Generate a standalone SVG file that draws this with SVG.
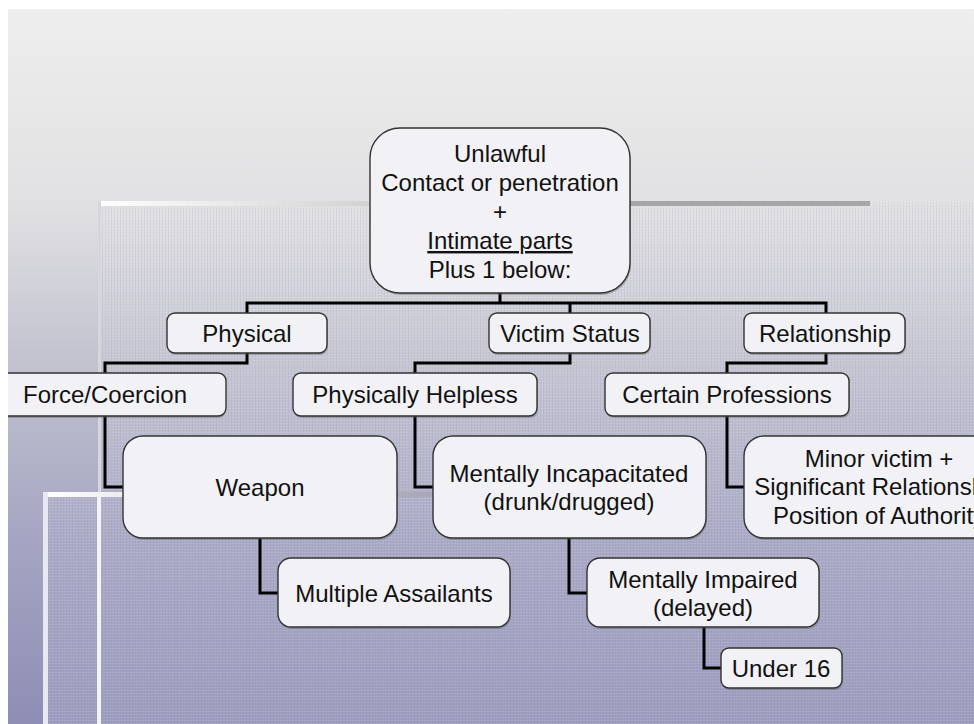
<svg xmlns="http://www.w3.org/2000/svg" width="974" height="724" viewBox="0 0 974 724">
<defs>
<style>
.box{fill:#f1f1f6;stroke:#333;stroke-width:1.4}
.sh{fill:#555;opacity:0.35}
.t{font-family:"Liberation Sans",Arial,sans-serif;font-size:24px;fill:#111;text-anchor:middle}
.c{fill:none;stroke:#000;stroke-width:3;stroke-linejoin:miter}
</style>
<linearGradient id="bg" gradientUnits="userSpaceOnUse" x1="0" y1="9" x2="0" y2="724">
<stop offset="0" stop-color="#eeeeee"/>
<stop offset="0.27" stop-color="#e1e1e3"/>
<stop offset="0.5" stop-color="#c1c1cf"/>
<stop offset="0.75" stop-color="#a4a4c2"/>
<stop offset="1" stop-color="#8e8eb5"/>
</linearGradient>
<linearGradient id="bg2" gradientUnits="userSpaceOnUse" x1="0" y1="9" x2="0" y2="724">
<stop offset="0" stop-color="#f0f0f0"/>
<stop offset="0.27" stop-color="#e2e2e4"/>
<stop offset="0.5" stop-color="#c6c6d3"/>
<stop offset="0.75" stop-color="#aaaac6"/>
<stop offset="1" stop-color="#9c9cbf"/>
</linearGradient>
<linearGradient id="bar1" gradientUnits="userSpaceOnUse" x1="98" y1="0" x2="640" y2="0">
<stop offset="0" stop-color="#ffffff"/>
<stop offset="1" stop-color="#a6a6a8"/>
</linearGradient>
<linearGradient id="bar2" gradientUnits="userSpaceOnUse" x1="43" y1="0" x2="420" y2="0">
<stop offset="0" stop-color="#ffffff"/>
<stop offset="1" stop-color="#a8a8b6"/>
</linearGradient>
<pattern id="grid" width="3" height="3" patternUnits="userSpaceOnUse">
<rect x="0" y="0" width="3" height="1" fill="#ffffff" opacity="0.10"/>
<rect x="0" y="0" width="1" height="3" fill="#7070a0" opacity="0.10"/>
</pattern>
<clipPath id="slide"><rect x="8" y="9" width="966" height="715"/></clipPath>
</defs>
<rect x="0" y="0" width="974" height="724" fill="#ffffff"/>
<g clip-path="url(#slide)">
<g id="background">
<rect x="8" y="9" width="966" height="715" fill="url(#bg)"/>
<rect x="98" y="201" width="876" height="523" fill="url(#bg2)"/>
<rect x="98" y="201" width="876" height="523" fill="url(#grid)"/>
<rect x="98" y="201" width="772" height="5" fill="url(#bar1)"/>
<rect x="98" y="201" width="3" height="296" fill="#d6d6dc"/>
<rect x="43" y="492" width="55" height="232" fill="url(#bg2)"/>
<rect x="43" y="492" width="55" height="232" fill="url(#grid)"/>
<rect x="43" y="492" width="517" height="5" fill="url(#bar2)"/>
<rect x="43" y="492" width="5" height="232" fill="#e8e8f0"/>
<rect x="97" y="497" width="4" height="227" fill="#f4f4f8"/>
</g>
<g id="connectors">
<path class="c" d="M500 293V303M247 313V303H826V313M570 303V313"/>
<path class="c" d="M247 353V363H105V373"/>
<path class="c" d="M570 353V363H415V373"/>
<path class="c" d="M826 353V363H727V373"/>
<path class="c" d="M105 416V487H123"/>
<path class="c" d="M415 416V487H433"/>
<path class="c" d="M727 416V487H744"/>
<path class="c" d="M260 538V593H278"/>
<path class="c" d="M569 538V593H587"/>
<path class="c" d="M704 627V668H721"/>
</g>
<g id="root">
<rect class="sh" x="371" y="130" width="260" height="165" rx="30"/>
<rect class="box" x="370" y="128" width="260" height="165" rx="30"/>
<text class="t" x="500" y="162">Unlawful</text>
<text class="t" x="500" y="191">Contact or penetration</text>
<text class="t" x="500" y="220">+</text>
<text class="t" x="500" y="249" text-decoration="underline">Intimate parts</text>
<text class="t" x="500" y="278">Plus 1 below:</text>
</g>
<g id="physical">
<rect class="sh" x="168" y="315" width="160" height="40" rx="8"/>
<rect class="box" x="167" y="313" width="160" height="40" rx="8"/>
<text class="t" x="247" y="342">Physical</text>
</g>
<g id="victim-status">
<rect class="sh" x="490" y="315" width="161" height="40" rx="8"/>
<rect class="box" x="489" y="313" width="161" height="40" rx="8"/>
<text class="t" x="570" y="342">Victim Status</text>
</g>
<g id="relationship">
<rect class="sh" x="745" y="315" width="161" height="40" rx="8"/>
<rect class="box" x="744" y="313" width="161" height="40" rx="8"/>
<text class="t" x="825" y="342">Relationship</text>
</g>
<g id="force-coercion">
<rect class="sh" x="-15" y="375" width="241" height="43" rx="8"/>
<rect class="box" x="-16" y="373" width="242" height="43" rx="8"/>
<text class="t" x="105" y="403">Force/Coercion</text>
</g>
<g id="physically-helpless">
<rect class="sh" x="294" y="375" width="244" height="43" rx="8"/>
<rect class="box" x="293" y="373" width="244" height="43" rx="8"/>
<text class="t" x="415" y="403">Physically Helpless</text>
</g>
<g id="certain-professions">
<rect class="sh" x="606" y="375" width="244" height="43" rx="8"/>
<rect class="box" x="605" y="373" width="244" height="43" rx="8"/>
<text class="t" x="727" y="403">Certain Professions</text>
</g>
<g id="weapon">
<rect class="sh" x="124" y="438" width="274" height="102" rx="20"/>
<rect class="box" x="123" y="436" width="274" height="102" rx="20"/>
<text class="t" x="260" y="496">Weapon</text>
</g>
<g id="mentally-incapacitated">
<rect class="sh" x="434" y="438" width="273" height="102" rx="20"/>
<rect class="box" x="433" y="436" width="273" height="102" rx="20"/>
<text class="t" x="569" y="482">Mentally Incapacitated</text>
<text class="t" x="569" y="510">(drunk/drugged)</text>
</g>
<g id="minor-victim">
<rect class="sh" x="745" y="438" width="270" height="102" rx="20"/>
<rect class="box" x="744" y="436" width="270" height="102" rx="20"/>
<text class="t" x="879" y="467">Minor victim +</text>
<text class="t" x="879" y="495">Significant Relationship</text>
<text class="t" x="879" y="524">Position of Authority</text>
</g>
<g id="multiple-assailants">
<rect class="sh" x="279" y="560" width="232" height="69" rx="13"/>
<rect class="box" x="278" y="558" width="232" height="69" rx="13"/>
<text class="t" x="394" y="602">Multiple Assailants</text>
</g>
<g id="mentally-impaired">
<rect class="sh" x="588" y="560" width="232" height="69" rx="13"/>
<rect class="box" x="587" y="558" width="232" height="69" rx="13"/>
<text class="t" x="703" y="588">Mentally Impaired</text>
<text class="t" x="703" y="616">(delayed)</text>
</g>
<g id="under-16">
<rect class="sh" x="722" y="650" width="121" height="40" rx="8"/>
<rect class="box" x="721" y="648" width="121" height="40" rx="8"/>
<text class="t" x="781" y="677">Under 16</text>
</g>
</g>
</svg>
